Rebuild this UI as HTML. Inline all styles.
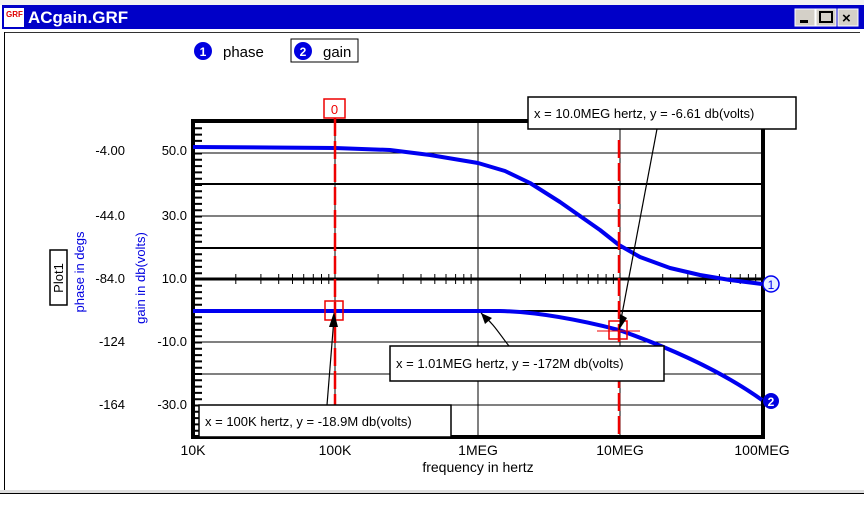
<!DOCTYPE html>
<html><head><meta charset="utf-8"><style>
body{margin:0;width:864px;height:501px;overflow:hidden;background:#fff;font-family:"Liberation Sans",sans-serif}
</style></head><body>
<svg width="864" height="501" viewBox="0 0 864 501" xmlns="http://www.w3.org/2000/svg" font-family="Liberation Sans, sans-serif">
<rect x="0" y="0" width="864" height="501" fill="#fff"/>
<rect x="0" y="0" width="864" height="5" fill="#f2f2f2"/>
<rect x="2" y="5" width="862" height="24" fill="#0000c8"/>
<rect x="4" y="8" width="20" height="19" fill="#fff"/>
<text x="6" y="17" font-size="8" fill="#d00" font-weight="bold">GRF</text>
<text x="28" y="23" font-size="17" font-weight="bold" fill="#fff">ACgain.GRF</text>
<rect x="795" y="9" width="20" height="17" fill="#d4d0c8" stroke="#fff"/>
<rect x="800" y="20" width="8" height="3" fill="#000"/>
<rect x="816" y="9" width="20" height="17" fill="#d4d0c8" stroke="#fff"/>
<rect x="820" y="12" width="12" height="10" fill="none" stroke="#000" stroke-width="2"/>
<rect x="838" y="9" width="20" height="17" fill="#d4d0c8" stroke="#fff"/>
<text x="842" y="23" font-size="15" font-weight="bold">×</text>
<rect x="4" y="32" width="856" height="0.8" fill="#000"/>
<rect x="4" y="32" width="1" height="458" fill="#000"/>
<rect x="0" y="490" width="864" height="3" fill="#ddd"/>
<rect x="0" y="493" width="864" height="1" fill="#000"/>
<circle cx="203" cy="51" r="9" fill="#0000e0"/>
<text x="203" y="56" font-size="12" fill="#fff" text-anchor="middle" font-weight="bold">1</text>
<text x="223" y="57" font-size="15">phase</text>
<rect x="291" y="39" width="67" height="23" fill="none" stroke="#000"/>
<circle cx="303" cy="51" r="9" fill="#0000e0"/>
<text x="303" y="56" font-size="12" fill="#fff" text-anchor="middle" font-weight="bold">2</text>
<text x="323" y="57" font-size="15">gain</text>
<g stroke="#000" stroke-width="1">
<line x1="193" y1="153" x2="763" y2="153"/>
<line x1="193" y1="184" x2="763" y2="184" stroke-width="2"/>
<line x1="193" y1="216" x2="763" y2="216"/>
<line x1="193" y1="248" x2="763" y2="248" stroke-width="2"/>
<line x1="193" y1="311" x2="763" y2="311" stroke-width="2"/>
<line x1="193" y1="342" x2="763" y2="342"/>
<line x1="193" y1="374" x2="763" y2="374"/>
<line x1="193" y1="405" x2="763" y2="405"/>
<line x1="478" y1="121" x2="478" y2="437"/>
<line x1="620" y1="121" x2="620" y2="437"/>
<line x1="335" y1="121" x2="335" y2="437"/>
</g>
<line x1="193" y1="279" x2="763" y2="279" stroke="#000" stroke-width="3"/>
<path stroke="#000" stroke-width="1" d="M235.8 274v10M260.9 274v10M278.7 274v10M292.5 274v10M303.7 274v10M313.3 274v10M321.5 274v10M328.8 274v10M378.1 274v10M403.2 274v10M421 274v10M434.8 274v10M446 274v10M455.6 274v10M463.8 274v10M471.1 274v10M520.4 274v10M545.5 274v10M563.3 274v10M577.1 274v10M588.3 274v10M597.9 274v10M606.1 274v10M613.4 274v10M662.7 274v10M687.8 274v10M705.6 274v10M719.4 274v10M730.6 274v10M740.2 274v10M748.4 274v10M755.7 274v10"/>
<line x1="198" y1="121" x2="198" y2="437" stroke="#000" stroke-width="8" stroke-dasharray="2 4.3"/>
<rect x="193" y="121" width="570" height="316" fill="none" stroke="#000" stroke-width="4"/>
<g font-size="13" text-anchor="end">
<text x="125" y="155">-4.00</text><text x="187" y="155">50.0</text>
<text x="125" y="220">-44.0</text><text x="187" y="220">30.0</text>
<text x="125" y="283">-84.0</text><text x="187" y="283">10.0</text>
<text x="125" y="346">-124</text><text x="187" y="346">-10.0</text>
<text x="125" y="409">-164</text><text x="187" y="409">-30.0</text>
</g>
<rect x="50" y="250" width="17" height="55" fill="#fff" stroke="#000" stroke-width="1.5"/>
<text transform="translate(63,278) rotate(-90)" font-size="13" text-anchor="middle">Plot1</text>
<text transform="translate(84,272) rotate(-90)" font-size="13" fill="#0000e0" text-anchor="middle">phase in degs</text>
<text transform="translate(145,278) rotate(-90)" font-size="13" fill="#0000e0" text-anchor="middle">gain in db(volts)</text>
<g font-size="14" text-anchor="middle">
<text x="193" y="455">10K</text><text x="335" y="455">100K</text><text x="478" y="455">1MEG</text>
<text x="620" y="455">10MEG</text><text x="762" y="455">100MEG</text>
<text x="478" y="472">frequency in hertz</text>
</g>
<polyline points="193,147 335,148 390,150 430,155 478,163 505,171 530,183 560,202 580,216 600,230 619,245 640,257 670,268 700,275 730,280 762,284" fill="none" stroke="#0000f0" stroke-width="4" stroke-linejoin="round"/>
<path d="M193 311 L500 311 C540 312 580 320 619 330 C670 348 720 370 762 400" fill="none" stroke="#0000f0" stroke-width="4"/>
<circle cx="771" cy="284" r="8" fill="#e8f0ff" stroke="#0000f0" stroke-width="1.5"/>
<text x="771" y="289" font-size="12" text-anchor="middle" fill="#0000f0">1</text>
<circle cx="771" cy="401" r="8" fill="#0000e0"/>
<text x="771" y="406" font-size="12" text-anchor="middle" fill="#fff" font-weight="bold">2</text>
<line x1="335" y1="118" x2="335" y2="437" stroke="#e00" stroke-width="2.5" stroke-dasharray="18 5"/>
<line x1="619" y1="140" x2="619" y2="437" stroke="#e00" stroke-width="2.5" stroke-dasharray="18 5"/>
<rect x="324" y="99" width="21" height="19" fill="#fff" stroke="#e00" stroke-width="1.5"/>
<text x="334.5" y="114" font-size="13" fill="#e00" text-anchor="middle">0</text>
<rect x="325" y="301" width="18" height="19" fill="none" stroke="#e00" stroke-width="1.5"/>
<rect x="609" y="321" width="18" height="18" fill="none" stroke="#e00" stroke-width="1.5"/>
<line x1="597" y1="331" x2="640" y2="331" stroke="#e00" stroke-width="1"/>
<g stroke="#000" stroke-width="1.2" fill="none">
<path d="M327 405 L334 318"/>
<path d="M509 346 C500 335 495 325 481 313"/>
<path d="M657 129 L619 330"/>
</g>
<path d="M334 312 L329 327 L338 327 Z" fill="#000"/>
<path d="M481 313 L485 324 L492 318 Z" fill="#000"/>
<path d="M619 330 L620 314 L627 318 Z" fill="#000"/>
<g font-size="13">
<rect x="199" y="405" width="252" height="32" fill="#fff" stroke="#000" stroke-width="1.5"/>
<text x="205" y="426">x = 100K hertz, y = -18.9M db(volts)</text>
<rect x="390" y="346" width="274" height="35" fill="#fff" stroke="#000" stroke-width="1.5"/>
<text x="396" y="368">x = 1.01MEG hertz, y = -172M db(volts)</text>
<rect x="528" y="97" width="268" height="32" fill="#fff" stroke="#000" stroke-width="1.5"/>
<text x="534" y="118">x = 10.0MEG hertz, y = -6.61 db(volts)</text>
</g>
</svg>
</body></html>
